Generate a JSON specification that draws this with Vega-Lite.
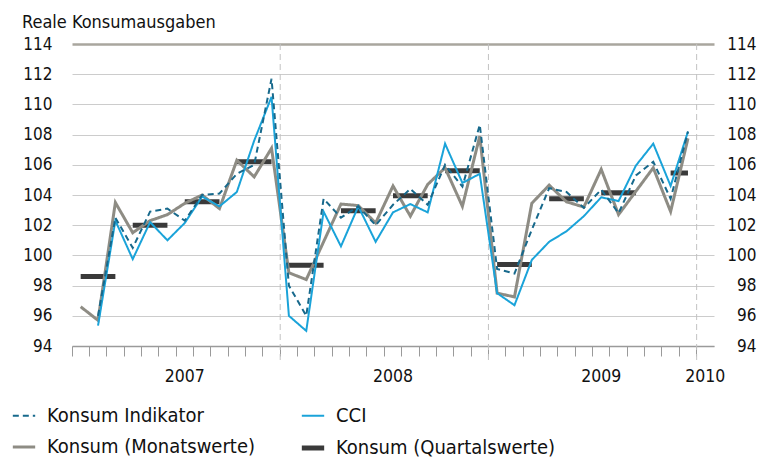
{
  "$schema": "https://vega.github.io/schema/vega-lite/v6.json",
  "autosize": "none",
  "width": 642,
  "height": 302,
  "padding": {"left": 72, "top": 44, "right": 48, "bottom": 114},
  "background": "white",
  "config": {
    "font": "DejaVu Sans Condensed",
    "view": {"stroke": null},
    "legend": {
      "orient": "none",
      "legendX": -62,
      "legendY": 359,
      "columns": 2,
      "direction": "horizontal",
      "symbolType": "stroke",
      "symbolSize": 500,
      "labelFontSize": 20,
      "labelLimit": 400,
      "labelColor": "#111111",
      "labelOffset": 9,
      "columnPadding": 36,
      "rowPadding": 8,
      "title": null
    }
  },
  "title": {
    "text": "Reale Konsumausgaben",
    "anchor": "start",
    "frame": "group",
    "dx": -50,
    "dy": 19,
    "baseline": "alphabetic",
    "offset": 8,
    "fontSize": 18,
    "fontWeight": "normal",
    "color": "#111111"
  },
  "datasets": {
    "monthly": [
      {"m": "2007-01", "s": "Konsum (Monatswerte)", "v": 96.6},
      {"m": "2007-02", "s": "Konsum (Monatswerte)", "v": 95.7},
      {"m": "2007-03", "s": "Konsum (Monatswerte)", "v": 103.5},
      {"m": "2007-04", "s": "Konsum (Monatswerte)", "v": 101.5},
      {"m": "2007-05", "s": "Konsum (Monatswerte)", "v": 102.3},
      {"m": "2007-06", "s": "Konsum (Monatswerte)", "v": 102.7},
      {"m": "2007-07", "s": "Konsum (Monatswerte)", "v": 103.45},
      {"m": "2007-08", "s": "Konsum (Monatswerte)", "v": 104.0},
      {"m": "2007-09", "s": "Konsum (Monatswerte)", "v": 103.1},
      {"m": "2007-10", "s": "Konsum (Monatswerte)", "v": 106.3},
      {"m": "2007-11", "s": "Konsum (Monatswerte)", "v": 105.2},
      {"m": "2007-12", "s": "Konsum (Monatswerte)", "v": 107.1},
      {"m": "2008-01", "s": "Konsum (Monatswerte)", "v": 98.85},
      {"m": "2008-02", "s": "Konsum (Monatswerte)", "v": 98.4},
      {"m": "2008-03", "s": "Konsum (Monatswerte)", "v": 100.9},
      {"m": "2008-04", "s": "Konsum (Monatswerte)", "v": 103.4},
      {"m": "2008-05", "s": "Konsum (Monatswerte)", "v": 103.3},
      {"m": "2008-06", "s": "Konsum (Monatswerte)", "v": 102.15},
      {"m": "2008-07", "s": "Konsum (Monatswerte)", "v": 104.6},
      {"m": "2008-08", "s": "Konsum (Monatswerte)", "v": 102.6},
      {"m": "2008-09", "s": "Konsum (Monatswerte)", "v": 104.7},
      {"m": "2008-10", "s": "Konsum (Monatswerte)", "v": 105.8},
      {"m": "2008-11", "s": "Konsum (Monatswerte)", "v": 103.25},
      {"m": "2008-12", "s": "Konsum (Monatswerte)", "v": 107.9},
      {"m": "2009-01", "s": "Konsum (Monatswerte)", "v": 97.5},
      {"m": "2009-02", "s": "Konsum (Monatswerte)", "v": 97.25},
      {"m": "2009-03", "s": "Konsum (Monatswerte)", "v": 103.45},
      {"m": "2009-04", "s": "Konsum (Monatswerte)", "v": 104.65},
      {"m": "2009-05", "s": "Konsum (Monatswerte)", "v": 103.55},
      {"m": "2009-06", "s": "Konsum (Monatswerte)", "v": 103.2},
      {"m": "2009-07", "s": "Konsum (Monatswerte)", "v": 105.7},
      {"m": "2009-08", "s": "Konsum (Monatswerte)", "v": 102.7},
      {"m": "2009-09", "s": "Konsum (Monatswerte)", "v": 104.25},
      {"m": "2009-10", "s": "Konsum (Monatswerte)", "v": 105.8},
      {"m": "2009-11", "s": "Konsum (Monatswerte)", "v": 102.9},
      {"m": "2009-12", "s": "Konsum (Monatswerte)", "v": 107.75},
      {"m": "2007-02", "s": "CCI", "v": 95.35},
      {"m": "2007-03", "s": "CCI", "v": 102.3},
      {"m": "2007-04", "s": "CCI", "v": 99.75},
      {"m": "2007-05", "s": "CCI", "v": 102.2},
      {"m": "2007-06", "s": "CCI", "v": 101.0},
      {"m": "2007-07", "s": "CCI", "v": 102.15},
      {"m": "2007-08", "s": "CCI", "v": 103.9},
      {"m": "2007-09", "s": "CCI", "v": 103.25},
      {"m": "2007-10", "s": "CCI", "v": 104.2},
      {"m": "2007-11", "s": "CCI", "v": 107.6},
      {"m": "2007-12", "s": "CCI", "v": 110.5},
      {"m": "2008-01", "s": "CCI", "v": 96.0},
      {"m": "2008-02", "s": "CCI", "v": 95.0},
      {"m": "2008-03", "s": "CCI", "v": 102.9},
      {"m": "2008-04", "s": "CCI", "v": 100.6},
      {"m": "2008-05", "s": "CCI", "v": 103.25},
      {"m": "2008-06", "s": "CCI", "v": 100.9},
      {"m": "2008-07", "s": "CCI", "v": 102.85},
      {"m": "2008-08", "s": "CCI", "v": 103.4},
      {"m": "2008-09", "s": "CCI", "v": 102.85},
      {"m": "2008-10", "s": "CCI", "v": 107.4},
      {"m": "2008-11", "s": "CCI", "v": 104.8},
      {"m": "2008-12", "s": "CCI", "v": 105.4},
      {"m": "2009-01", "s": "CCI", "v": 97.5},
      {"m": "2009-02", "s": "CCI", "v": 96.7},
      {"m": "2009-03", "s": "CCI", "v": 99.7},
      {"m": "2009-04", "s": "CCI", "v": 100.9},
      {"m": "2009-05", "s": "CCI", "v": 101.6},
      {"m": "2009-06", "s": "CCI", "v": 102.6},
      {"m": "2009-07", "s": "CCI", "v": 103.85},
      {"m": "2009-08", "s": "CCI", "v": 103.6},
      {"m": "2009-09", "s": "CCI", "v": 105.95},
      {"m": "2009-10", "s": "CCI", "v": 107.4},
      {"m": "2009-11", "s": "CCI", "v": 104.6},
      {"m": "2009-12", "s": "CCI", "v": 108.2},
      {"m": "2007-02", "s": "Konsum Indikator", "v": 96.0},
      {"m": "2007-03", "s": "Konsum Indikator", "v": 102.5},
      {"m": "2007-04", "s": "Konsum Indikator", "v": 100.5},
      {"m": "2007-05", "s": "Konsum Indikator", "v": 102.9},
      {"m": "2007-06", "s": "Konsum Indikator", "v": 103.1},
      {"m": "2007-07", "s": "Konsum Indikator", "v": 102.3},
      {"m": "2007-08", "s": "Konsum Indikator", "v": 104.0},
      {"m": "2007-09", "s": "Konsum Indikator", "v": 104.1},
      {"m": "2007-10", "s": "Konsum Indikator", "v": 105.4},
      {"m": "2007-11", "s": "Konsum Indikator", "v": 106.0},
      {"m": "2007-12", "s": "Konsum Indikator", "v": 111.7},
      {"m": "2008-01", "s": "Konsum Indikator", "v": 98.0},
      {"m": "2008-02", "s": "Konsum Indikator", "v": 96.0},
      {"m": "2008-03", "s": "Konsum Indikator", "v": 103.75},
      {"m": "2008-04", "s": "Konsum Indikator", "v": 102.5},
      {"m": "2008-05", "s": "Konsum Indikator", "v": 103.25},
      {"m": "2008-06", "s": "Konsum Indikator", "v": 102.0},
      {"m": "2008-07", "s": "Konsum Indikator", "v": 103.35},
      {"m": "2008-08", "s": "Konsum Indikator", "v": 104.4},
      {"m": "2008-09", "s": "Konsum Indikator", "v": 103.35},
      {"m": "2008-10", "s": "Konsum Indikator", "v": 106.0},
      {"m": "2008-11", "s": "Konsum Indikator", "v": 104.55},
      {"m": "2008-12", "s": "Konsum Indikator", "v": 108.65},
      {"m": "2009-01", "s": "Konsum Indikator", "v": 99.1},
      {"m": "2009-02", "s": "Konsum Indikator", "v": 98.8},
      {"m": "2009-03", "s": "Konsum Indikator", "v": 101.7},
      {"m": "2009-04", "s": "Konsum Indikator", "v": 104.45},
      {"m": "2009-05", "s": "Konsum Indikator", "v": 104.2},
      {"m": "2009-06", "s": "Konsum Indikator", "v": 103.15},
      {"m": "2009-07", "s": "Konsum Indikator", "v": 104.35},
      {"m": "2009-08", "s": "Konsum Indikator", "v": 102.8},
      {"m": "2009-09", "s": "Konsum Indikator", "v": 105.3},
      {"m": "2009-10", "s": "Konsum Indikator", "v": 106.2},
      {"m": "2009-11", "s": "Konsum Indikator", "v": 103.75},
      {"m": "2009-12", "s": "Konsum Indikator", "v": 108.2}
    ],
    "quarterly": [
      {"m": "2007-01", "m2": "2007-03", "s": "Konsum (Quartalswerte)", "v": 98.6},
      {"m": "2007-04", "m2": "2007-06", "s": "Konsum (Quartalswerte)", "v": 102.0},
      {"m": "2007-07", "m2": "2007-09", "s": "Konsum (Quartalswerte)", "v": 103.55},
      {"m": "2007-10", "m2": "2007-12", "s": "Konsum (Quartalswerte)", "v": 106.2},
      {"m": "2008-01", "m2": "2008-03", "s": "Konsum (Quartalswerte)", "v": 99.35},
      {"m": "2008-04", "m2": "2008-06", "s": "Konsum (Quartalswerte)", "v": 102.95},
      {"m": "2008-07", "m2": "2008-09", "s": "Konsum (Quartalswerte)", "v": 103.95},
      {"m": "2008-10", "m2": "2008-12", "s": "Konsum (Quartalswerte)", "v": 105.6},
      {"m": "2009-01", "m2": "2009-03", "s": "Konsum (Quartalswerte)", "v": 99.4},
      {"m": "2009-04", "m2": "2009-06", "s": "Konsum (Quartalswerte)", "v": 103.75},
      {"m": "2009-07", "m2": "2009-09", "s": "Konsum (Quartalswerte)", "v": 104.15},
      {"m": "2009-11", "m2": "2009-12", "s": "Konsum (Quartalswerte)", "v": 105.45}
    ],
    "years": [
      {"m": "2008-01"},
      {"m": "2009-01"},
      {"m": "2010-01"}
    ]
  },
  "resolve": {"axis": {"y": "independent"}},
  "layer": [
    {
      "data": {"name": "years"},
      "mark": {"type": "rule", "color": "#c2c2c2", "strokeWidth": 1, "strokeDash": [6, 4]},
      "encoding": {
        "x": {
          "field": "m", "type": "ordinal", "bandPosition": 0,
          "scale": {"type": "band", "paddingInner": 0, "paddingOuter": 0,
            "domain": ["2007-01","2007-02","2007-03","2007-04","2007-05","2007-06","2007-07","2007-08","2007-09","2007-10","2007-11","2007-12","2008-01","2008-02","2008-03","2008-04","2008-05","2008-06","2008-07","2008-08","2008-09","2008-10","2008-11","2008-12","2009-01","2009-02","2009-03","2009-04","2009-05","2009-06","2009-07","2009-08","2009-09","2009-10","2009-11","2009-12","2010-01"]},
          "axis": {
            "title": null, "bandPosition": 0, "labelAngle": 0, "labelAlign": "center",
            "labelExpr": "indexof(['2007-07','2008-07','2009-07'], datum.value) >= 0 ? slice(datum.value, 0, 4) : (datum.value == '2010-01' ? '2010' : '')",
            "tickSize": 10, "tickColor": "#9a9a9a", "tickWidth": 1,
            "domainColor": "#9a9a9a", "domainWidth": 1.5,
            "labelFontSize": 17.5, "labelColor": "#111111", "labelPadding": 11, "grid": false
          }
        },
        "y": {"datum": 114, "type": "quantitative", "scale": {"domain": [94, 114], "zero": false, "nice": false}, "axis": null},
        "y2": {"datum": 93}
      }
    },
    {
      "data": {"name": "quarterly"},
      "mark": {"type": "rule"},
      "encoding": {
        "x": {"field": "m", "type": "ordinal"},
        "x2": {"field": "m2"},
        "y": {
          "field": "v", "type": "quantitative",
          "scale": {"domain": [94, 114], "zero": false, "nice": false},
          "axis": {
            "title": null, "orient": "right", "values": [94,96,98,100,102,104,106,108,110,112,114],
            "domain": false, "ticks": false, "grid": false,
            "labelAlign": "right", "labelPadding": 42, "labelFontSize": 17, "labelColor": "#111111"
          }
        },
        "color": {"field": "s", "type": "nominal", "title": null,
          "scale": {"domain": ["Konsum Indikator", "CCI", "Konsum (Monatswerte)", "Konsum (Quartalswerte)"],
                    "range": ["#17698c", "#1aa3d9", "#8e8c84", "#3a3a3a"]}},
        "strokeDash": {"field": "s", "type": "nominal", "title": null,
          "scale": {"domain": ["Konsum Indikator", "CCI", "Konsum (Monatswerte)", "Konsum (Quartalswerte)"],
                    "range": [[6, 4], [1, 0], [1, 0], [1, 0]]}},
        "strokeWidth": {"field": "s", "type": "nominal", "title": null,
          "scale": {"type": "ordinal", "domain": ["Konsum Indikator", "CCI", "Konsum (Monatswerte)", "Konsum (Quartalswerte)"],
                    "range": [2, 2, 3, 5]}}
      }
    },
    {
      "data": {"name": "monthly"},
      "mark": {"type": "line"},
      "encoding": {
        "x": {"field": "m", "type": "ordinal"},
        "y": {
          "field": "v", "type": "quantitative",
          "scale": {"domain": [94, 114], "zero": false, "nice": false},
          "axis": {
            "title": null, "orient": "left", "values": [94,96,98,100,102,104,106,108,110,112,114],
            "domain": false, "ticks": false, "grid": true,
            "gridColor": {"condition": {"test": "datum.value == 114", "value": "#a9a69e"}, "value": "#cccccc"},
            "gridWidth": {"condition": {"test": "datum.value == 114", "value": 2.5}, "value": 1},
            "labelPadding": 20, "labelFontSize": 17, "labelColor": "#111111"
          }
        },
        "color": {"field": "s", "type": "nominal", "title": null,
          "scale": {"domain": ["Konsum Indikator", "CCI", "Konsum (Monatswerte)", "Konsum (Quartalswerte)"],
                    "range": ["#17698c", "#1aa3d9", "#8e8c84", "#3a3a3a"]}},
        "strokeDash": {"field": "s", "type": "nominal", "title": null,
          "scale": {"domain": ["Konsum Indikator", "CCI", "Konsum (Monatswerte)", "Konsum (Quartalswerte)"],
                    "range": [[6, 4], [1, 0], [1, 0], [1, 0]]}},
        "strokeWidth": {"field": "s", "type": "nominal", "title": null,
          "scale": {"type": "ordinal", "domain": ["Konsum Indikator", "CCI", "Konsum (Monatswerte)", "Konsum (Quartalswerte)"],
                    "range": [2, 2, 3, 5]}},
        "order": {"field": "s", "sort": "ascending"}
      }
    }
  ]
}
